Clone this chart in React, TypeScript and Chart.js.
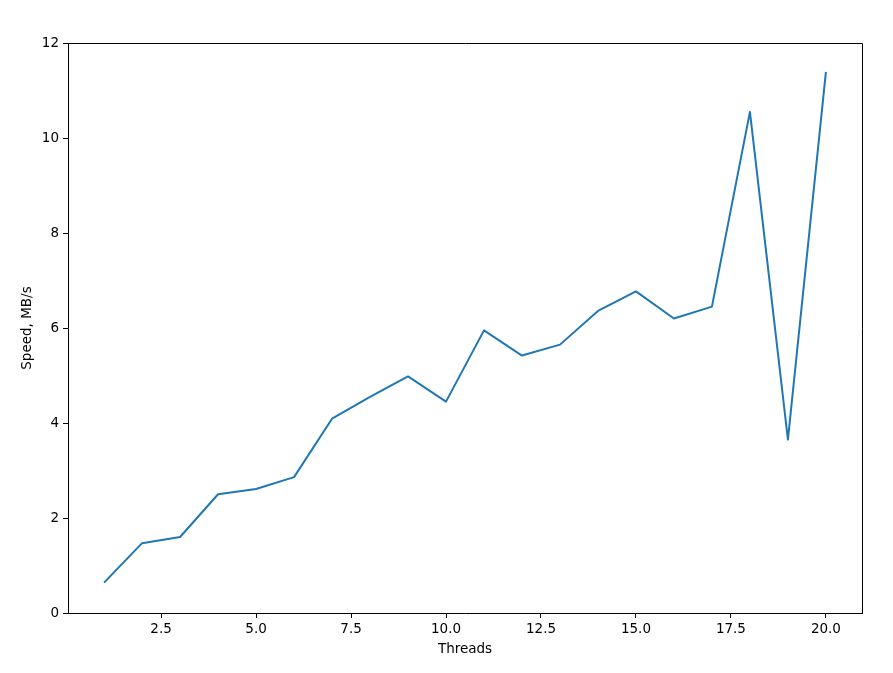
import React, { useEffect, useRef } from "react";
import { Chart, registerables } from "chart.js";

Chart.register(...registerables);

const threads = [1, 2, 3, 4, 5, 6, 7, 8, 9, 10, 11, 12, 13, 14, 15, 16, 17, 18, 19, 20];
const speed = [0.64, 1.47, 1.6, 2.5, 2.61, 2.86, 4.09, 4.55, 4.98, 4.45, 5.95, 5.42, 5.65, 6.36, 6.77, 6.2, 6.45, 10.55, 3.65, 11.39];
const xTicks = [2.5, 5.0, 7.5, 10.0, 12.5, 15.0, 17.5, 20.0];
const yTicks = [0, 2, 4, 6, 8, 10, 12];

const FONT = "'DejaVu Sans', sans-serif";

const framePlugin = {
  id: "frame",
  afterDraw(chart: any) {
    const { ctx, chartArea } = chart;
    ctx.save();
    ctx.strokeStyle = "#000";
    ctx.lineWidth = 1;
    ctx.beginPath();
    const l = Math.round(chartArea.left) + 0.5;
    const t = Math.round(chartArea.top) + 0.5;
    const r = Math.round(chartArea.right) + 0.5;
    ctx.moveTo(l, t);
    ctx.lineTo(r, t);
    ctx.lineTo(r, Math.round(chartArea.bottom));
    ctx.stroke();
    ctx.restore();
  },
};

export default function App() {
  const ref = useRef<HTMLCanvasElement | null>(null);
  useEffect(() => {
    document.body.style.margin = "0";
    const canvas = ref.current!;
    const chart = new Chart(canvas, {
      type: "line",
      data: {
        datasets: [
          {
            data: threads.map((t, i) => ({ x: t, y: speed[i] })),
            borderColor: "#1f77b4",
            borderWidth: 2,
            borderJoinStyle: "round",
            pointRadius: 0,
            fill: false,
            tension: 0,
          },
        ],
      },
      options: {
        animation: false,
        responsive: false,
        devicePixelRatio: 1,
        layout: { padding: { top: 43, right: 31, left: 0, bottom: 0 } },
        plugins: { legend: { display: false }, tooltip: { enabled: false } },
        scales: {
          x: {
            type: "linear",
            min: 0.05,
            max: 20.95,
            afterBuildTicks: (s: any) => {
              s.ticks = xTicks.map((v) => ({ value: v }));
            },
            afterFit: (s: any) => {
              s.height = 60;
            },
            ticks: {
              color: "#000",
              font: { family: FONT, size: 13.5 },
              padding: 3,
              maxRotation: 0,
              callback: (v: any) => Number(v).toFixed(1),
            },
            grid: { drawOnChartArea: false, drawTicks: true, tickLength: 5, color: "#000" },
            border: { color: "#000", width: 1 },
            title: {
              display: true,
              text: "Threads",
              color: "#000",
              font: { family: FONT, size: 13.5 },
              padding: { top: 0, bottom: 15 },
            },
          },
          y: {
            type: "linear",
            min: 0,
            max: 12,
            afterBuildTicks: (s: any) => {
              s.ticks = yTicks.map((v) => ({ value: v }));
            },
            afterFit: (s: any) => {
              s.width = 68;
            },
            ticks: {
              color: "#000",
              font: { family: FONT, size: 13.5 },
              padding: 4,
              callback: (v: any) => String(v),
            },
            grid: { drawOnChartArea: false, drawTicks: true, tickLength: 5, color: "#000" },
            border: { color: "#000", width: 1 },
            title: {
              display: true,
              text: "Speed, MB/s",
              color: "#000",
              font: { family: FONT, size: 13.5 },
              padding: { top: 19, bottom: 0 },
            },
          },
        },
      },
      plugins: [framePlugin],
    });
    return () => chart.destroy();
  }, []);
  return (
    <div style={{ position: "fixed", left: 0, top: 0, width: 893, height: 673, background: "#fff" }}>
      <canvas ref={ref} width={893} height={673} style={{ width: 893, height: 673, display: "block" }} />
    </div>
  );
}
